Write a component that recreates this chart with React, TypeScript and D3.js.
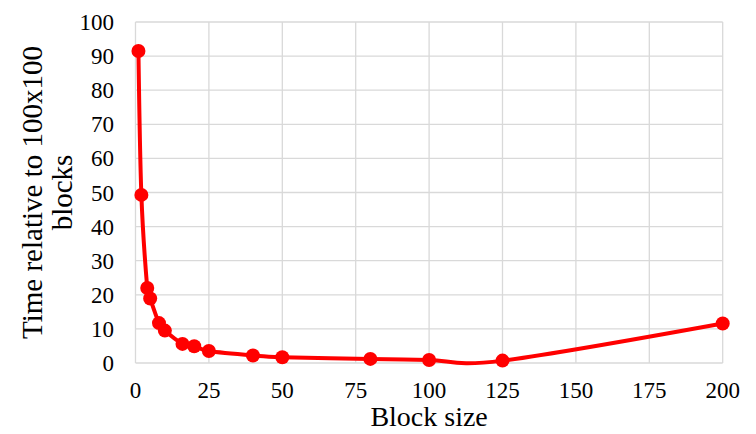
import React, { useEffect, useRef } from "react";
import * as d3 from "d3";

// block size vs. relative time
const blockSizes = [1, 2, 4, 5, 8, 10, 16, 20, 25, 40, 50, 80, 100, 125, 200];
const relTimes = [91.5, 49.3, 22.0, 18.9, 11.7, 9.5, 5.6, 4.9, 3.5, 2.2, 1.7, 1.2, 0.9, 0.7, 11.6];
const xTicks = [0, 25, 50, 75, 100, 125, 150, 175, 200];
const yTicks = [0, 10, 20, 30, 40, 50, 60, 70, 80, 90, 100];

const W = 756;
const H = 434;

export default function App() {
  const ref = useRef<SVGSVGElement>(null);

  useEffect(() => {
    const svg = d3.select(ref.current);
    svg.selectAll("*").remove();

    const x = d3.scaleLinear().domain([0, 200]).range([135.5, 722.7]);
    const y = d3.scaleLinear().domain([0, 100]).range([363, 22]);
    const font = "Liberation Serif, Times New Roman, serif";
    const grid = "#d9d9d9";

    const g = svg.append("g");

    // gridlines
    g.selectAll("line.h")
      .data(yTicks)
      .enter()
      .append("line")
      .attr("x1", x(0))
      .attr("x2", x(200))
      .attr("y1", (d) => y(d))
      .attr("y2", (d) => y(d))
      .attr("stroke", grid)
      .attr("stroke-width", 1.3);

    g.selectAll("line.v")
      .data(xTicks)
      .enter()
      .append("line")
      .attr("x1", (d) => x(d))
      .attr("x2", (d) => x(d))
      .attr("y1", y(0))
      .attr("y2", y(100))
      .attr("stroke", grid)
      .attr("stroke-width", 1.3);

    // tick labels
    g.selectAll("text.yt")
      .data(yTicks)
      .enter()
      .append("text")
      .attr("x", 114)
      .attr("y", (d) => y(d))
      .attr("dy", "0.35em")
      .attr("text-anchor", "end")
      .attr("font-family", font)
      .attr("font-size", 23)
      .text((d) => d);

    g.selectAll("text.xt")
      .data(xTicks)
      .enter()
      .append("text")
      .attr("x", (d) => x(d))
      .attr("y", 398)
      .attr("text-anchor", "middle")
      .attr("font-family", font)
      .attr("font-size", 23)
      .text((d) => d);

    // axis titles
    g.append("text")
      .attr("x", (x(0) + x(200)) / 2)
      .attr("y", 426)
      .attr("text-anchor", "middle")
      .attr("font-family", font)
      .attr("font-size", 28)
      .text("Block size");

    const yt = g
      .append("text")
      .attr("transform", `translate(0, ${(y(0) + y(100)) / 2}) rotate(-90)`)
      .attr("text-anchor", "middle")
      .attr("font-family", font)
      .attr("font-size", 29);
    yt.append("tspan").attr("x", 0).attr("y", 42).text("Time relative to 100x100");
    yt.append("tspan").attr("x", 0).attr("y", 72).text("blocks");

    // smoothed line
    const pts: [number, number][] = blockSizes.map((b, i) => [b, relTimes[i]]);
    const line = d3
      .line<[number, number]>()
      .x((d) => x(d[0]))
      .y((d) => y(d[1]))
      .curve(d3.curveCardinal.tension(0));

    g.append("path")
      .datum(pts)
      .attr("d", line)
      .attr("fill", "none")
      .attr("stroke", "#ff0000")
      .attr("stroke-width", 4)
      .attr("stroke-linejoin", "round");

    g.selectAll("circle")
      .data(pts)
      .enter()
      .append("circle")
      .attr("cx", (d) => x(d[0]))
      .attr("cy", (d) => y(d[1]))
      .attr("r", 7)
      .attr("fill", "#ff0000");
  }, []);

  return (
    <div style={{ position: "absolute", left: 0, top: 0 }}>
      <svg ref={ref} width={W} height={H} style={{ display: "block", background: "#fff" }} />
    </div>
  );
}
